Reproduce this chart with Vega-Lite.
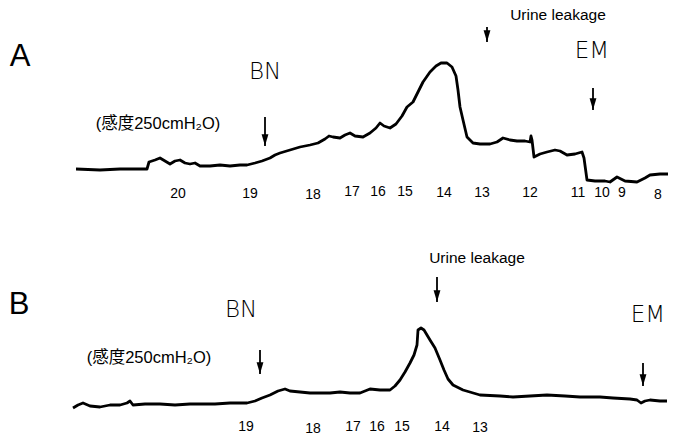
{
  "$schema": "https://vega.github.io/schema/vega-lite/v6.json",
  "width": 677,
  "height": 438,
  "padding": 0,
  "autosize": {"type": "fit", "contains": "padding"},
  "background": "white",
  "config": {"view": {"stroke": null}, "font": "Liberation Sans, Noto Sans CJK JP"},
  "datasets": {
    "trace": [
      {"panel": "A", "x": 76, "y": 169}, {"panel": "A", "x": 100, "y": 170}, {"panel": "A", "x": 120, "y": 169}, {"panel": "A", "x": 147, "y": 169},
      {"panel": "A", "x": 149, "y": 162}, {"panel": "A", "x": 155, "y": 160}, {"panel": "A", "x": 160, "y": 158}, {"panel": "A", "x": 165, "y": 161},
      {"panel": "A", "x": 170, "y": 164}, {"panel": "A", "x": 175, "y": 161}, {"panel": "A", "x": 180, "y": 160}, {"panel": "A", "x": 185, "y": 163},
      {"panel": "A", "x": 190, "y": 164}, {"panel": "A", "x": 195, "y": 163}, {"panel": "A", "x": 200, "y": 166}, {"panel": "A", "x": 210, "y": 166},
      {"panel": "A", "x": 220, "y": 165}, {"panel": "A", "x": 230, "y": 166}, {"panel": "A", "x": 240, "y": 165}, {"panel": "A", "x": 247, "y": 165},
      {"panel": "A", "x": 255, "y": 163}, {"panel": "A", "x": 262, "y": 161}, {"panel": "A", "x": 270, "y": 158}, {"panel": "A", "x": 275, "y": 155},
      {"panel": "A", "x": 280, "y": 153}, {"panel": "A", "x": 290, "y": 150}, {"panel": "A", "x": 300, "y": 147}, {"panel": "A", "x": 310, "y": 145},
      {"panel": "A", "x": 318, "y": 143}, {"panel": "A", "x": 325, "y": 139}, {"panel": "A", "x": 329, "y": 136}, {"panel": "A", "x": 333, "y": 137},
      {"panel": "A", "x": 340, "y": 138}, {"panel": "A", "x": 345, "y": 135}, {"panel": "A", "x": 350, "y": 133}, {"panel": "A", "x": 355, "y": 136},
      {"panel": "A", "x": 363, "y": 137}, {"panel": "A", "x": 370, "y": 133}, {"panel": "A", "x": 376, "y": 128}, {"panel": "A", "x": 380, "y": 123},
      {"panel": "A", "x": 384, "y": 126}, {"panel": "A", "x": 390, "y": 128}, {"panel": "A", "x": 396, "y": 124}, {"panel": "A", "x": 402, "y": 116},
      {"panel": "A", "x": 407, "y": 107}, {"panel": "A", "x": 413, "y": 102}, {"panel": "A", "x": 418, "y": 92}, {"panel": "A", "x": 423, "y": 82},
      {"panel": "A", "x": 430, "y": 72}, {"panel": "A", "x": 436, "y": 66}, {"panel": "A", "x": 441, "y": 63}, {"panel": "A", "x": 447, "y": 63},
      {"panel": "A", "x": 452, "y": 67}, {"panel": "A", "x": 456, "y": 76}, {"panel": "A", "x": 458, "y": 90}, {"panel": "A", "x": 460, "y": 107},
      {"panel": "A", "x": 463, "y": 120}, {"panel": "A", "x": 467, "y": 137}, {"panel": "A", "x": 473, "y": 143}, {"panel": "A", "x": 480, "y": 144},
      {"panel": "A", "x": 490, "y": 144}, {"panel": "A", "x": 497, "y": 142}, {"panel": "A", "x": 503, "y": 138}, {"panel": "A", "x": 510, "y": 140},
      {"panel": "A", "x": 517, "y": 141}, {"panel": "A", "x": 525, "y": 141}, {"panel": "A", "x": 530, "y": 142}, {"panel": "A", "x": 531, "y": 136},
      {"panel": "A", "x": 532, "y": 140}, {"panel": "A", "x": 534, "y": 157}, {"panel": "A", "x": 540, "y": 154}, {"panel": "A", "x": 547, "y": 152},
      {"panel": "A", "x": 555, "y": 150}, {"panel": "A", "x": 560, "y": 151}, {"panel": "A", "x": 567, "y": 155}, {"panel": "A", "x": 575, "y": 154},
      {"panel": "A", "x": 582, "y": 152}, {"panel": "A", "x": 584, "y": 158}, {"panel": "A", "x": 587, "y": 180}, {"panel": "A", "x": 595, "y": 181},
      {"panel": "A", "x": 605, "y": 181}, {"panel": "A", "x": 610, "y": 182}, {"panel": "A", "x": 617, "y": 177}, {"panel": "A", "x": 625, "y": 181},
      {"panel": "A", "x": 637, "y": 182}, {"panel": "A", "x": 645, "y": 178}, {"panel": "A", "x": 650, "y": 175}, {"panel": "A", "x": 660, "y": 174},
      {"panel": "A", "x": 668, "y": 174},
      {"panel": "B", "x": 73, "y": 408}, {"panel": "B", "x": 78, "y": 405}, {"panel": "B", "x": 83, "y": 403}, {"panel": "B", "x": 90, "y": 406},
      {"panel": "B", "x": 100, "y": 407}, {"panel": "B", "x": 110, "y": 405}, {"panel": "B", "x": 120, "y": 405}, {"panel": "B", "x": 127, "y": 403},
      {"panel": "B", "x": 130, "y": 401}, {"panel": "B", "x": 133, "y": 405}, {"panel": "B", "x": 145, "y": 404}, {"panel": "B", "x": 160, "y": 404},
      {"panel": "B", "x": 175, "y": 405}, {"panel": "B", "x": 190, "y": 404}, {"panel": "B", "x": 200, "y": 404}, {"panel": "B", "x": 215, "y": 404},
      {"panel": "B", "x": 230, "y": 403}, {"panel": "B", "x": 247, "y": 403}, {"panel": "B", "x": 255, "y": 401}, {"panel": "B", "x": 262, "y": 398},
      {"panel": "B", "x": 270, "y": 395}, {"panel": "B", "x": 278, "y": 391}, {"panel": "B", "x": 285, "y": 389}, {"panel": "B", "x": 290, "y": 391},
      {"panel": "B", "x": 300, "y": 392}, {"panel": "B", "x": 310, "y": 393}, {"panel": "B", "x": 320, "y": 393}, {"panel": "B", "x": 330, "y": 393},
      {"panel": "B", "x": 340, "y": 392}, {"panel": "B", "x": 350, "y": 393}, {"panel": "B", "x": 360, "y": 393}, {"panel": "B", "x": 370, "y": 389},
      {"panel": "B", "x": 380, "y": 390}, {"panel": "B", "x": 390, "y": 390}, {"panel": "B", "x": 395, "y": 386}, {"panel": "B", "x": 400, "y": 380},
      {"panel": "B", "x": 405, "y": 372}, {"panel": "B", "x": 410, "y": 363}, {"panel": "B", "x": 414, "y": 355}, {"panel": "B", "x": 417, "y": 345},
      {"panel": "B", "x": 418, "y": 330}, {"panel": "B", "x": 421, "y": 328}, {"panel": "B", "x": 424, "y": 330}, {"panel": "B", "x": 430, "y": 340},
      {"panel": "B", "x": 435, "y": 348}, {"panel": "B", "x": 440, "y": 360}, {"panel": "B", "x": 444, "y": 370}, {"panel": "B", "x": 448, "y": 379},
      {"panel": "B", "x": 453, "y": 385}, {"panel": "B", "x": 463, "y": 390}, {"panel": "B", "x": 480, "y": 395}, {"panel": "B", "x": 500, "y": 396},
      {"panel": "B", "x": 513, "y": 397}, {"panel": "B", "x": 530, "y": 396}, {"panel": "B", "x": 547, "y": 395}, {"panel": "B", "x": 565, "y": 396},
      {"panel": "B", "x": 580, "y": 397}, {"panel": "B", "x": 600, "y": 397}, {"panel": "B", "x": 613, "y": 398}, {"panel": "B", "x": 630, "y": 399},
      {"panel": "B", "x": 637, "y": 400}, {"panel": "B", "x": 641, "y": 403}, {"panel": "B", "x": 645, "y": 401}, {"panel": "B", "x": 650, "y": 400},
      {"panel": "B", "x": 660, "y": 401}, {"panel": "B", "x": 667, "y": 401}
    ],
    "ticks": [
      {"x": 178, "y": 194, "t": "20"}, {"x": 250, "y": 194, "t": "19"}, {"x": 313, "y": 195, "t": "18"}, {"x": 352, "y": 192, "t": "17"},
      {"x": 378, "y": 192, "t": "16"}, {"x": 405, "y": 192, "t": "15"}, {"x": 444, "y": 193, "t": "14"}, {"x": 482, "y": 193, "t": "13"},
      {"x": 530, "y": 193, "t": "12"}, {"x": 578, "y": 193, "t": "11"}, {"x": 602, "y": 193, "t": "10"}, {"x": 622, "y": 193, "t": "9"},
      {"x": 658, "y": 195, "t": "8"},
      {"x": 246, "y": 427, "t": "19"}, {"x": 313, "y": 429, "t": "18"}, {"x": 353, "y": 427, "t": "17"}, {"x": 377, "y": 427, "t": "16"},
      {"x": 402, "y": 427, "t": "15"}, {"x": 442, "y": 427, "t": "14"}, {"x": 480, "y": 428, "t": "13"}
    ],
    "leak": [
      {"x": 558, "y": 15, "t": "Urine leakage"},
      {"x": 477, "y": 258, "t": "Urine leakage"}
    ],
    "sens": [
      {"x": 158, "y": 124, "t": "(感度250cmH₂O)"},
      {"x": 149, "y": 358, "t": "(感度250cmH₂O)"}
    ],
    "medium": [
      {"x": 265, "y": 72, "t": "BN"}, {"x": 592, "y": 51, "t": "EM"},
      {"x": 241, "y": 310, "t": "BN"}, {"x": 648, "y": 315, "t": "EM"}
    ],
    "big": [
      {"x": 20, "y": 57, "t": "A"}, {"x": 19, "y": 305, "t": "B"}
    ],
    "arrows": [
      {"x": 265, "y1": 117, "y2": 146}, {"x": 487, "y1": 27, "y2": 42}, {"x": 593, "y1": 88, "y2": 110},
      {"x": 260, "y1": 350, "y2": 374}, {"x": 437, "y1": 277, "y2": 302}, {"x": 643, "y1": 363, "y2": 386}
    ]
  },
  "layer": [
    {
      "data": {"name": "trace"},
      "mark": {"type": "line", "color": "black", "strokeWidth": 2.8, "strokeJoin": "round"},
      "encoding": {
        "x": {"field": "x", "type": "quantitative", "scale": {"domain": [0, 677], "nice": false, "zero": false}, "axis": null},
        "y": {"field": "y", "type": "quantitative", "scale": {"domain": [0, 438], "nice": false, "zero": false, "reverse": true}, "axis": null},
        "detail": {"field": "panel"}
      }
    },
    {
      "data": {"name": "arrows"},
      "mark": {"type": "rule", "color": "black", "strokeWidth": 1.8},
      "encoding": {
        "x": {"field": "x", "type": "quantitative"},
        "y": {"field": "y1", "type": "quantitative"},
        "y2": {"field": "y2"}
      }
    },
    {
      "data": {"name": "arrows"},
      "mark": {"type": "point", "shape": "M-0.6,-1L0.6,-1L0,1Z", "filled": true, "color": "black", "opacity": 1, "size": 130, "yOffset": -6},
      "encoding": {
        "x": {"field": "x", "type": "quantitative"},
        "y": {"field": "y2", "type": "quantitative"}
      }
    },
    {
      "data": {"name": "ticks"},
      "mark": {"type": "text", "fontSize": 14, "baseline": "middle", "align": "center", "color": "black"},
      "encoding": {
        "x": {"field": "x", "type": "quantitative"},
        "y": {"field": "y", "type": "quantitative"},
        "text": {"field": "t"}
      }
    },
    {
      "data": {"name": "leak"},
      "mark": {"type": "text", "fontSize": 15.5, "baseline": "middle", "align": "center", "color": "black"},
      "encoding": {
        "x": {"field": "x", "type": "quantitative"},
        "y": {"field": "y", "type": "quantitative"},
        "text": {"field": "t"}
      }
    },
    {
      "data": {"name": "sens"},
      "mark": {"type": "text", "fontSize": 16.5, "baseline": "middle", "align": "center", "color": "black"},
      "encoding": {
        "x": {"field": "x", "type": "quantitative"},
        "y": {"field": "y", "type": "quantitative"},
        "text": {"field": "t"}
      }
    },
    {
      "data": {"name": "medium"},
      "mark": {"type": "text", "fontSize": 23, "baseline": "middle", "align": "center", "color": "black", "font": "DejaVu Sans", "fontWeight": 300},
      "encoding": {
        "x": {"field": "x", "type": "quantitative"},
        "y": {"field": "y", "type": "quantitative"},
        "text": {"field": "t"}
      }
    },
    {
      "data": {"name": "big"},
      "mark": {"type": "text", "fontSize": 31, "baseline": "middle", "align": "center", "color": "black", "font": "Liberation Sans"},
      "encoding": {
        "x": {"field": "x", "type": "quantitative"},
        "y": {"field": "y", "type": "quantitative"},
        "text": {"field": "t"}
      }
    }
  ]
}
